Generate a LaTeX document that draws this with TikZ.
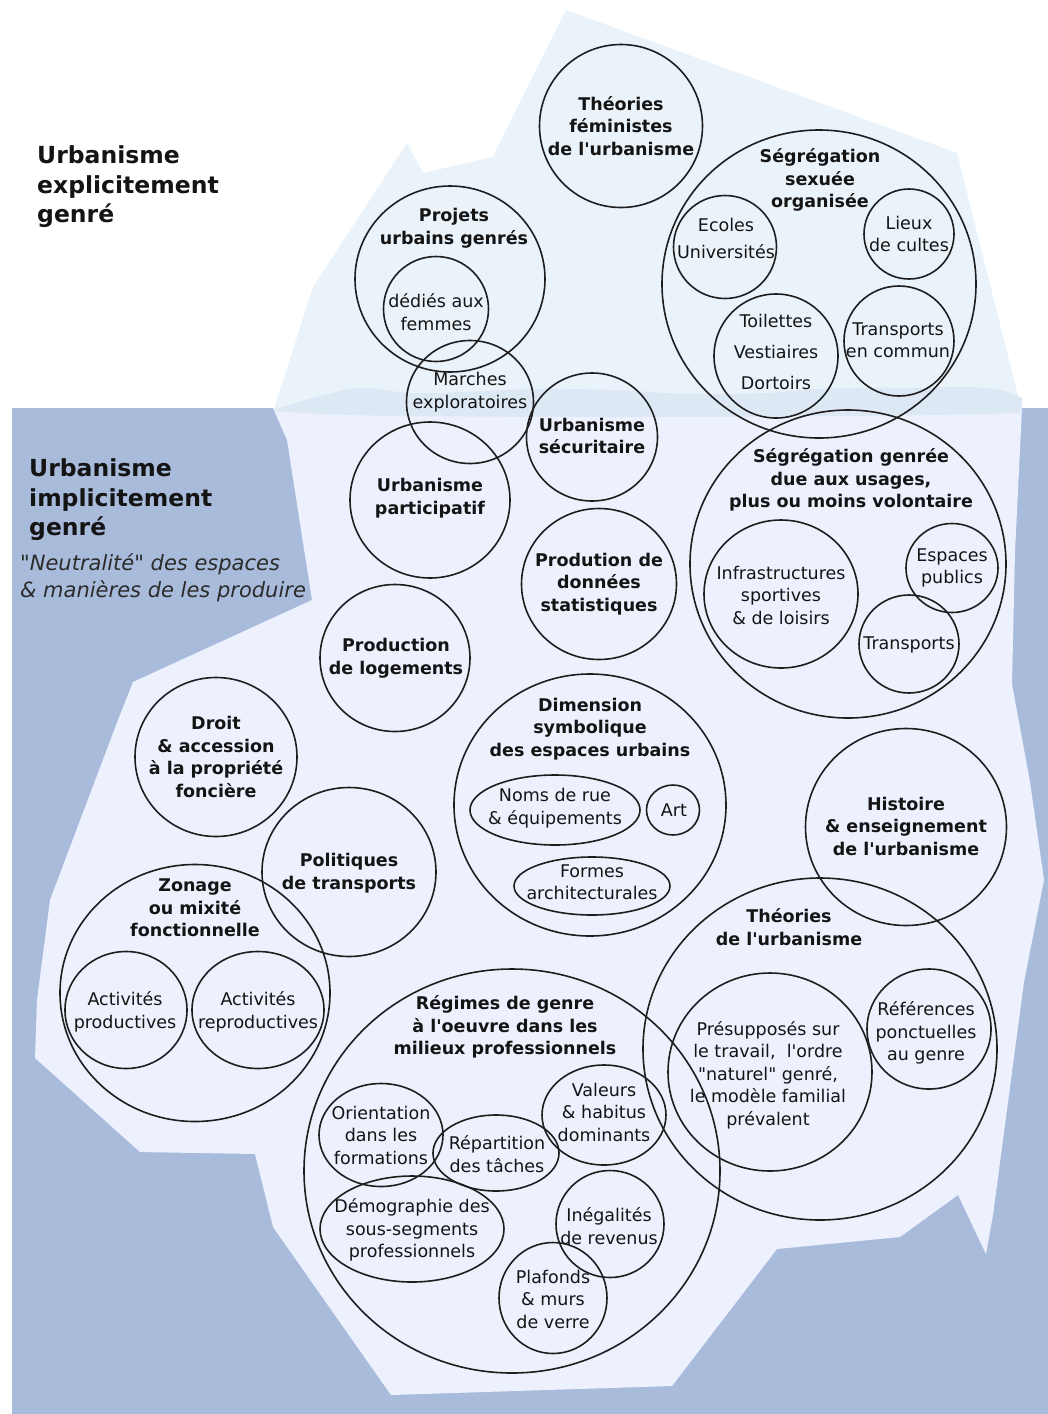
\documentclass[tikz,border=0pt]{standalone}
\usepackage{fontspec}
\setmainfont{DejaVu Sans}
\usetikzlibrary{shapes.geometric}
\definecolor{waterc}{HTML}{A9BBDB}
\definecolor{iceunder}{HTML}{EDF1FD}
\definecolor{iceabove}{HTML}{EAF3FA}
\definecolor{iceband}{HTML}{DDE8F5}
\definecolor{linec}{HTML}{1E1E1E}
\definecolor{txt}{HTML}{141414}
\definecolor{itxt}{HTML}{2B2B2B}
\newcommand{\ap}{\textquotesingle}
\newcommand{\dq}{\textquotedbl}
\begin{document}
\begin{tikzpicture}[x=1pt,y=-1pt,
  circ/.style={draw=linec, line width=1.6pt, circle, inner sep=0pt, minimum size=#1},
  ell/.style 2 args={draw=linec, line width=1.6pt, ellipse, inner sep=0pt, minimum width=#1, minimum height=#2},
  bt/.style={font=\bfseries\fontsize{17.5}{22.5}\selectfont, align=center, text=txt, inner sep=0pt},
  rt/.style={font=\fontsize{17.5}{22.5}\selectfont, align=center, text=txt, inner sep=0pt},
  bigl/.style={font=\bfseries\fontsize{23.5}{29.5}\selectfont, align=left, text=txt, anchor=west, inner sep=0pt},
  itl/.style={font=\itshape\fontsize{21}{27}\selectfont, align=left, text=itxt, anchor=west, inner sep=0pt}]
\useasboundingbox (0,0) rectangle (1048,1414);
\fill[white] (0,0) rectangle (1048,1414);
% above-water iceberg
\fill[iceabove] (273,412) -- (313,287) -- (407,143) -- (423,173) -- (493,157) -- (566,10) -- (957,153) -- (1022,412) -- cycle;
% water
\fill[waterc] (12,408) rectangle (1048,1414);
% underwater iceberg
\fill[iceunder] (273,408) -- (287,440) -- (312,600) -- (133,682) -- (118,720) -- (50,900) -- (37,1000) -- (35,1058) -- (140,1152) -- (255,1154) -- (273,1227) -- (391,1395) -- (672,1386) -- (777,1249) -- (900,1237) -- (958,1195) -- (986,1254) -- (993,1215) -- (1024,982) -- (1044,880) -- (1030,782) -- (1012,684) -- (1015,552) -- (1022,408) -- cycle;
% waterline band
\fill[iceband] plot[smooth, tension=0.6] coordinates {(273,410) (320,396) (361,388) (410,393) (462,392) (540,389) (613,390) (690,394) (764,393) (820,389) (865,388) (920,388) (965,387) (1000,390) (1022,398)} -- (1022,413) .. controls (900,417) and (600,418) .. (400,416) .. controls (330,415) and (290,413) .. (273,410) -- cycle;

% circles
\node[circ=163pt] (feministes) at (621,126) {};
\node[ell={314pt}{308pt}] (segsex) at (819,284) {};
\node[circ=103pt] (ecoles) at (725,247) {};
\node[circ=90pt] (lieux) at (909,234) {};
\node[circ=124pt] (toilettes) at (776,356) {};
\node[circ=110pt] (transcom) at (899,341) {};
\node[ell={190pt}{186pt}] (projets) at (450,279) {};
\node[circ=105pt] (dedies) at (436,309) {};
\node[ell={127pt}{123pt}] (marches) at (470,402) {};
\node[ell={131pt}{128pt}] (securitaire) at (592,437) {};
\node[ell={160pt}{156pt}] (participatif) at (430,500) {};
\node[ell={316pt}{308pt}] (seggenree) at (848,564) {};
\node[ell={154pt}{148pt}] (infra) at (781,594) {};
\node[ell={92pt}{89pt}] (espaces) at (952,568) {};
\node[ell={100pt}{98pt}] (transports) at (909,644) {};
\node[ell={155pt}{151pt}] (donnees) at (599,584) {};
\node[ell={150pt}{147pt}] (logements) at (395,658) {};
\node[ell={162pt}{159pt}] (droit) at (216,757) {};
\node[ell={174pt}{169pt}] (politiques) at (349,872) {};
\node[ell={270pt}{257pt}] (zonage) at (195,993) {};
\node[ell={122pt}{117pt}] (actprod) at (126,1010) {};
\node[ell={132pt}{117pt}] (actrepro) at (258,1010) {};
\node[ell={272pt}{262pt}] (dimension) at (590,805) {};
\node[ell={170pt}{70pt}] (noms) at (555,810) {};
\node[ell={53pt}{50pt}] (art) at (673,810) {};
\node[ell={156pt}{58pt}] (formes) at (592,886) {};
\node[ell={201pt}{197pt}] (histoire) at (906,827) {};
\node[ell={354pt}{342pt}] (theories) at (820,1049) {};
\node[ell={204pt}{198pt}] (presupposes) at (770,1072) {};
\node[ell={124pt}{120pt}] (references) at (929,1029) {};
\node[ell={416pt}{404pt}] (regimes) at (512,1171) {};
\node[ell={124pt}{103pt}] (orientation) at (381,1135) {};
\node[ell={126pt}{76pt}] (repartition) at (496,1153) {};
\node[ell={124pt}{100pt}] (valeurs) at (604,1115) {};
\node[ell={184pt}{106pt}] (demographie) at (412,1229) {};
\node[ell={108pt}{107pt}] (inegalites) at (610,1224) {};
\node[ell={108pt}{111pt}] (plafonds) at (553,1298) {};

% big labels
\node[bigl] (lexpl) at (37,187) {Urbanisme\\explicitement\\genré};
\node[bigl] (limpl) at (29,500) {Urbanisme\\implicitement\\genré};
\node[itl] (lneutre) at (20,578) {\dq Neutralité\dq{} des espaces\\\& manières de les produire};

% texts
\node[bt] (t-feministes) at (621,126) {Théories\\féministes\\de l\ap urbanisme};
\node[bt] (t-segsex) at (820,180) {Ségrégation\\sexuée\\organisée};
\node[rt, font=\fontsize{17.5}{27}\selectfont] (t-ecoles) at (726,238) {Ecoles\\Universités};
\node[rt] (t-lieux) at (909,234) {Lieux\\de cultes};
\node[rt, font=\fontsize{17.5}{31}\selectfont] (t-toilettes) at (776,352) {Toilettes\\Vestiaires\\Dortoirs};
\node[rt] (t-transcom) at (898,340) {Transports\\en commun};
\node[bt] (t-projets) at (454,228) {Projets\\urbains genrés};
\node[rt] (t-dedies) at (436,312) {dédiés aux\\femmes};
\node[rt] (t-marches) at (470,392) {Marches\\exploratoires};
\node[bt] (t-securitaire) at (592,436) {Urbanisme\\sécuritaire};
\node[bt] (t-participatif) at (430,498) {Urbanisme\\participatif};
\node[bt] (t-seggenree) at (851,480) {Ségrégation genrée\\due aux usages,\\plus ou moins volontaire};
\node[rt] (t-infra) at (781,595) {Infrastructures\\sportives\\\& de loisirs};
\node[rt] (t-espaces) at (952,568) {Espaces\\publics};
\node[rt] (t-transports) at (909,645) {Transports};
\node[bt] (t-donnees) at (599,584) {Prodution de\\données\\statistiques};
\node[bt] (t-logements) at (396,658) {Production\\de logements};
\node[bt] (t-droit) at (216,757) {Droit\\\& accession\\à la propriété\\foncière};
\node[bt] (t-politiques) at (349,873) {Politiques\\de transports};
\node[bt] (t-zonage) at (195,908) {Zonage\\ou mixité\\fonctionnelle};
\node[rt] (t-actprod) at (125,1012) {Activités\\productives};
\node[rt] (t-actrepro) at (258,1012) {Activités\\reproductives};
\node[bt] (t-dimension) at (590,729) {Dimension\\symbolique\\des espaces urbains};
\node[rt] (t-noms) at (555,808) {Noms de rue\\\& équipements};
\node[rt] (t-art) at (674,810) {Art};
\node[rt] (t-formes) at (592,882) {Formes\\architecturales};
\node[bt] (t-histoire) at (906,826) {Histoire\\\& enseignement\\de l\ap urbanisme};
\node[bt] (t-theories) at (789,927) {Théories\\de l\ap urbanisme};
\node[rt] (t-presupposes) at (768,1075) {Présupposés sur\\le travail,\ \ l\ap ordre\\\dq naturel\dq{} genré,\\le modèle familial\\prévalent};
\node[rt] (t-references) at (926,1033) {Références\\ponctuelles\\au genre};
\node[bt] (t-regimes) at (505,1027) {Régimes de genre\\à l\ap oeuvre dans les\\milieux professionnels};
\node[rt] (t-orientation) at (381,1135) {Orientation\\dans les\\formations};
\node[rt] (t-repartition) at (497,1154) {Répartition\\des tâches};
\node[rt] (t-valeurs) at (604,1112) {Valeurs\\\& habitus\\dominants};
\node[rt] (t-demographie) at (412,1230) {Démographie des\\sous-segments\\professionnels};
\node[rt] (t-inegalites) at (609,1226) {Inégalités\\de revenus};
\node[rt] (t-plafonds) at (553,1299) {Plafonds\\\& murs\\de verre};
\end{tikzpicture}
\end{document}
